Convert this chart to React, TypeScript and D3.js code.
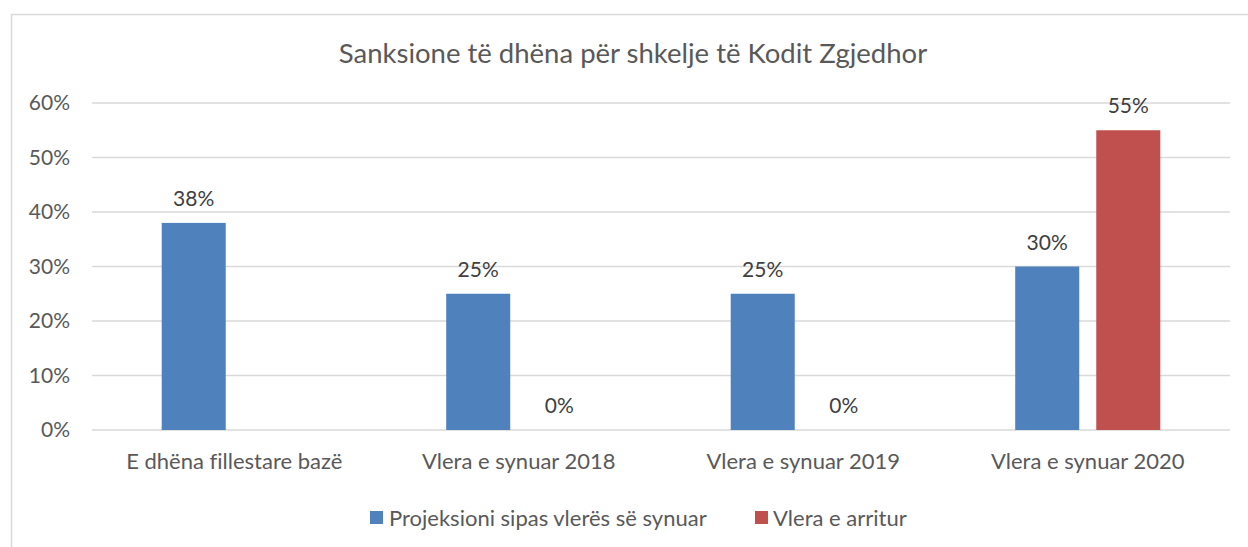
import React from "react";
import * as d3 from "d3";

const categories = [
  "E dhëna fillestare bazë",
  "Vlera e synuar 2018",
  "Vlera e synuar 2019",
  "Vlera e synuar 2020",
];
const seriesNames = ["Projeksioni sipas vlerës së synuar", "Vlera e arritur"];
const projeksioni: (number | null)[] = [0.38, 0.25, 0.25, 0.3];
const arritur: (number | null)[] = [null, 0, 0, 0.55];
const yTicks = [0, 0.1, 0.2, 0.3, 0.4, 0.5, 0.6];
const colors = ["#4F81BD", "#C0504D"];
const title = "Sanksione të dhëna për shkelje të Kodit Zgjedhor";

const W = 1248;
const H = 547;
const FONT = "Lato, 'Open Sans', sans-serif";
const TXT = "#595959";

export default function App() {
  const x0 = d3.scaleBand<string>().domain(categories).range([92, 1230]).padding(0);
  const x1 = d3
    .scaleBand<string>()
    .domain(seriesNames)
    .range([0, x0.bandwidth()])
    .paddingInner(0.21)
    .paddingOuter(0.86);
  const y = d3.scaleLinear().domain([0, 0.6]).range([430, 103]);
  const fmt = d3.format(".0%");
  const seriesData = [projeksioni, arritur];

  return (
    <svg
      width={W}
      height={H}
      style={{ position: "absolute", left: 0, top: 0, background: "#fff", fontVariantLigatures: "none" }}
      fontFamily={FONT}
    >
      <rect x={11.5} y={14.5} width={W + 10} height={H + 10} fill="#fff" stroke="#d9d9d9" strokeWidth={1.5} />
      <text x={633} y={63} textAnchor="middle" fontSize={27.5} fill={TXT}>
        {title}
      </text>
      {yTicks.map((t) => (
        <g key={t}>
          <line x1={92} x2={1230} y1={y(t)} y2={y(t)} stroke="#d9d9d9" strokeWidth={1.5} />
          <text x={70} y={y(t)} dy="0.35em" textAnchor="end" fontSize={21} fill={TXT}>
            {fmt(t)}
          </text>
        </g>
      ))}
      {categories.map((c, i) => (
        <g key={c} transform={`translate(${x0(c)},0)`}>
          {seriesNames.map((s, k) => {
            const v = seriesData[k][i];
            if (v === null || v === undefined) return null;
            const bx = x1(s)!;
            const bw = x1.bandwidth();
            return (
              <g key={s}>
                {v > 0 && (
                  <rect x={bx} y={y(v)} width={bw} height={y(0) - y(v)} fill={colors[k]} />
                )}
                <text x={bx + bw / 2} y={y(v) - 17} textAnchor="middle" fontSize={21} fill="#404040">
                  {fmt(v)}
                </text>
              </g>
            );
          })}
          <text x={x0.bandwidth() / 2} y={469} textAnchor="middle" fontSize={22} fill={TXT}>
            {c}
          </text>
        </g>
      ))}
      <g>
        <rect x={370} y={511} width={13} height={13} fill={colors[0]} />
        <text x={389} y={526} fontSize={22} fill={TXT}>
          {seriesNames[0]}
        </text>
        <rect x={755} y={511} width={13} height={13} fill={colors[1]} />
        <text x={773} y={526} fontSize={22} fill={TXT}>
          {seriesNames[1]}
        </text>
      </g>
    </svg>
  );
}
